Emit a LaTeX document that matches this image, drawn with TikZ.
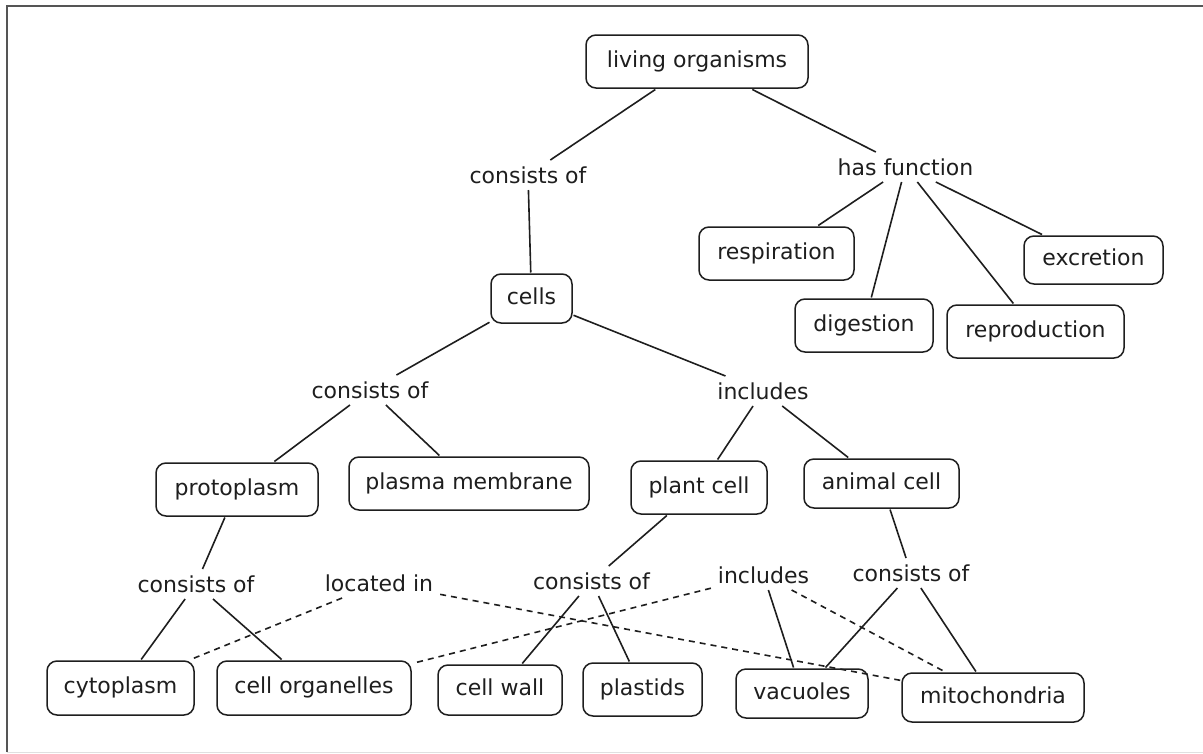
\documentclass[tikz,border=0pt]{standalone}
\usepackage{fontspec}
\setmainfont{DejaVu Sans}
\newcommand\mapfont{\fontsize{22}{26}\selectfont}
\definecolor{ink}{HTML}{1E1E1E}
\definecolor{framec}{HTML}{555555}
\begin{document}
\begin{tikzpicture}[x=1pt,y=-1pt,
  concept/.style={draw=ink, line width=1.5pt, rounded corners=10pt, fill=white,
    font=\mapfont, text=ink, inner sep=0pt, text height=16pt, text depth=5pt, outer sep=1.5pt},
  linking/.style={font=\mapfont, text=ink, inner sep=5pt, text height=16pt, text depth=0pt, outer sep=2pt},
  link/.style={draw=ink, line width=1.6pt},
  dlink/.style={draw=ink, line width=1.6pt, dash pattern=on 6pt off 5pt}]
\useasboundingbox (0,0) rectangle (1203,753);
\draw[framec, line width=2pt] (7,752) -- (7,6) -- (1203,6);
\draw[black!12, line width=1pt] (7,752) -- (1203,752);

% concepts
\node[concept, minimum width=222pt, minimum height=53pt] (living) at (697,61.5) {living organisms};
\node[concept, minimum width=81pt, minimum height=49pt] (cells) at (531.5,298.5) {cells};
\node[concept, minimum width=155pt, minimum height=53pt] (resp) at (776.5,253.5) {respiration};
\node[concept, minimum width=139pt, minimum height=48pt] (excr) at (1093.5,260) {excretion};
\node[concept, minimum width=138pt, minimum height=53pt] (dig) at (864,325.5) {digestion};
\node[concept, minimum width=177pt, minimum height=53pt] (repro) at (1035.5,331.5) {reproduction};
\node[concept, minimum width=162pt, minimum height=53pt] (proto) at (237,489.5) {protoplasm};
\node[concept, minimum width=240pt, minimum height=53pt] (plasma) at (469,483.5) {plasma membrane};
\node[concept, minimum width=136pt, minimum height=53pt] (plant) at (699,487.5) {plant cell};
\node[concept, minimum width=155pt, minimum height=49pt] (animal) at (881.5,483.5) {animal cell};
\node[concept, minimum width=147pt, minimum height=54pt] (cyto) at (120.5,688) {cytoplasm};
\node[concept, minimum width=194pt, minimum height=54pt] (org) at (314,688) {cell organelles};
\node[concept, minimum width=124pt, minimum height=50pt] (wall) at (500,690) {cell wall};
\node[concept, minimum width=119pt, minimum height=53pt] (plast) at (642.5,689.5) {plastids};
\node[concept, minimum width=132pt, minimum height=49pt] (vac) at (802,693.5) {vacuoles};
\node[concept, minimum width=182pt, minimum height=49pt] (mito) at (993,697.5) {mitochondria};

% linking phrases
\node[linking] (c1) at (528,175) {consists of};
\node[linking] (hf) at (905.5,167) {has function};
\node[linking] (c2) at (370,390) {consists of};
\node[linking] (inc1) at (763,391) {includes};
\node[linking] (c3) at (196,584) {consists of};
\node[linking] (loc) at (379,583) {located in};
\node[linking] (c4) at (591.5,581) {consists of};
\node[linking] (inc2) at (763.5,575) {includes};
\node[linking] (c5) at (911,573) {consists of};

% connectors
\draw[link] (living) -- (c1);
\draw[link] (living) -- (hf);
\draw[link] (c1) -- (cells);
\draw[link] (hf) -- (resp);
\draw[link] (hf) -- (dig);
\draw[link] (hf) -- (repro);
\draw[link] (hf) -- (excr);
\draw[link] (cells) -- (c2);
\draw[link] (cells) -- (inc1);
\draw[link] (c2) -- (proto);
\draw[link] (c2) -- (plasma);
\draw[link] (inc1) -- (plant);
\draw[link] (inc1) -- (animal);
\draw[link] (proto) -- (c3);
\draw[link] (c3) -- (cyto);
\draw[link] (c3) -- (org);
\draw[link] (plant) -- (c4);
\draw[link] (c4) -- (wall);
\draw[link] (c4) -- (plast);
\draw[link] (animal) -- (c5);
\draw[link] (c5) -- (vac);
\draw[link] (c5) -- (mito);
\draw[link] (inc2) -- (vac);
\draw[dlink] (loc) -- (cyto);
\draw[dlink] (loc) -- (mito);
\draw[dlink] (inc2) -- (org);
\draw[dlink] (inc2) -- (mito);
\end{tikzpicture}
\end{document}
